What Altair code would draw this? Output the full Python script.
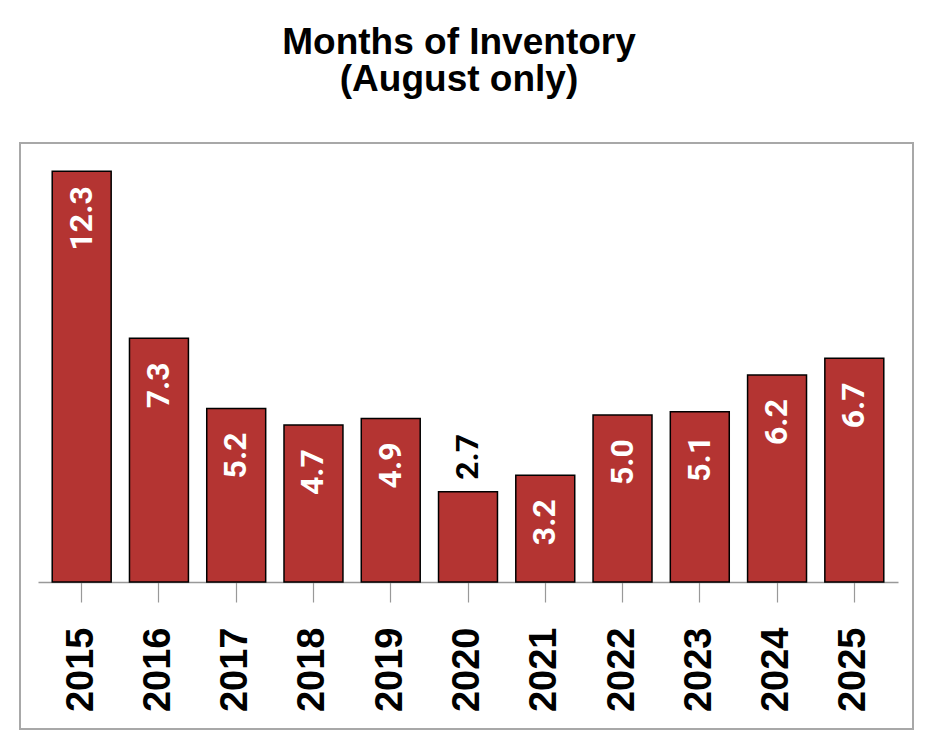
import altair as alt
import pandas as pd

years = ["2015", "2016", "2017", "2018", "2019", "2020", "2021", "2022", "2023", "2024", "2025"]
months = [12.3, 7.3, 5.2, 4.7, 4.9, 2.7, 3.2, 5.0, 5.1, 6.2, 6.7]

df = pd.DataFrame({"year": years, "value": months})
df["label"] = df["value"].map(lambda v: f"{v:.1f}")

W, H = 860, 434

x = alt.X("year:N", sort=years, title=None,
          scale=alt.Scale(paddingInner=0.237, paddingOuter=0.184),
          axis=alt.Axis(labelAngle=270, labelFont="Liberation Sans", labelFontSize=38,
                        labelFontWeight="bold", labelColor="black", labelPadding=25,
                        tickSize=20, tickColor="#999999", tickWidth=1.2,
                        domainColor="#999999", domainWidth=1.5, labelOverlap=False))
y = alt.Y("value:Q", scale=alt.Scale(domain=[0, 13], nice=False, zero=True), axis=None)

base = alt.Chart(df)

border = base.mark_rect(fill=None, stroke="#a8a8a8", strokeWidth=2).encode(
    x=alt.value(-18), x2=alt.value(875), y=alt.value(-5), y2=alt.value(581)
).transform_filter("datum.year == '2015'")

bars = base.mark_bar(color="#B43432", stroke="black", strokeWidth=1.5).encode(
    x=x, y=y, y2=alt.datum(0)
)

inside = base.transform_filter("datum.value >= 3").mark_text(
    angle=270, align="center", baseline="middle", dx=-47,
    font="Roboto", fontSize=32, fontWeight="bold", color="white"
).encode(x=alt.X("year:N", sort=years), y="value:Q", text="label:N")

outside = base.transform_filter("datum.value < 3").mark_text(
    angle=270, align="center", baseline="middle", dx=35,
    font="Roboto", fontSize=32, fontWeight="bold", color="black"
).encode(x=alt.X("year:N", sort=years), y="value:Q", text="label:N")

chart = alt.layer(border, bars, inside, outside).properties(
    width=W, height=H,
    background="white",
    title=alt.Title(["Months of Inventory", "(August only)"], font="Liberation Sans",
                    fontSize=37, fontWeight="bold", color="black", lineHeight=37,
                    anchor="middle", offset=43, dx=-9),
    autosize=alt.AutoSizeParams(type="none"),
    padding={"left": 30, "top": 140, "right": 20, "bottom": 150},
).configure_view(strokeWidth=0, stroke="transparent")

chart.save("out.html", embed_options={"renderer": "svg", "actions": False})
